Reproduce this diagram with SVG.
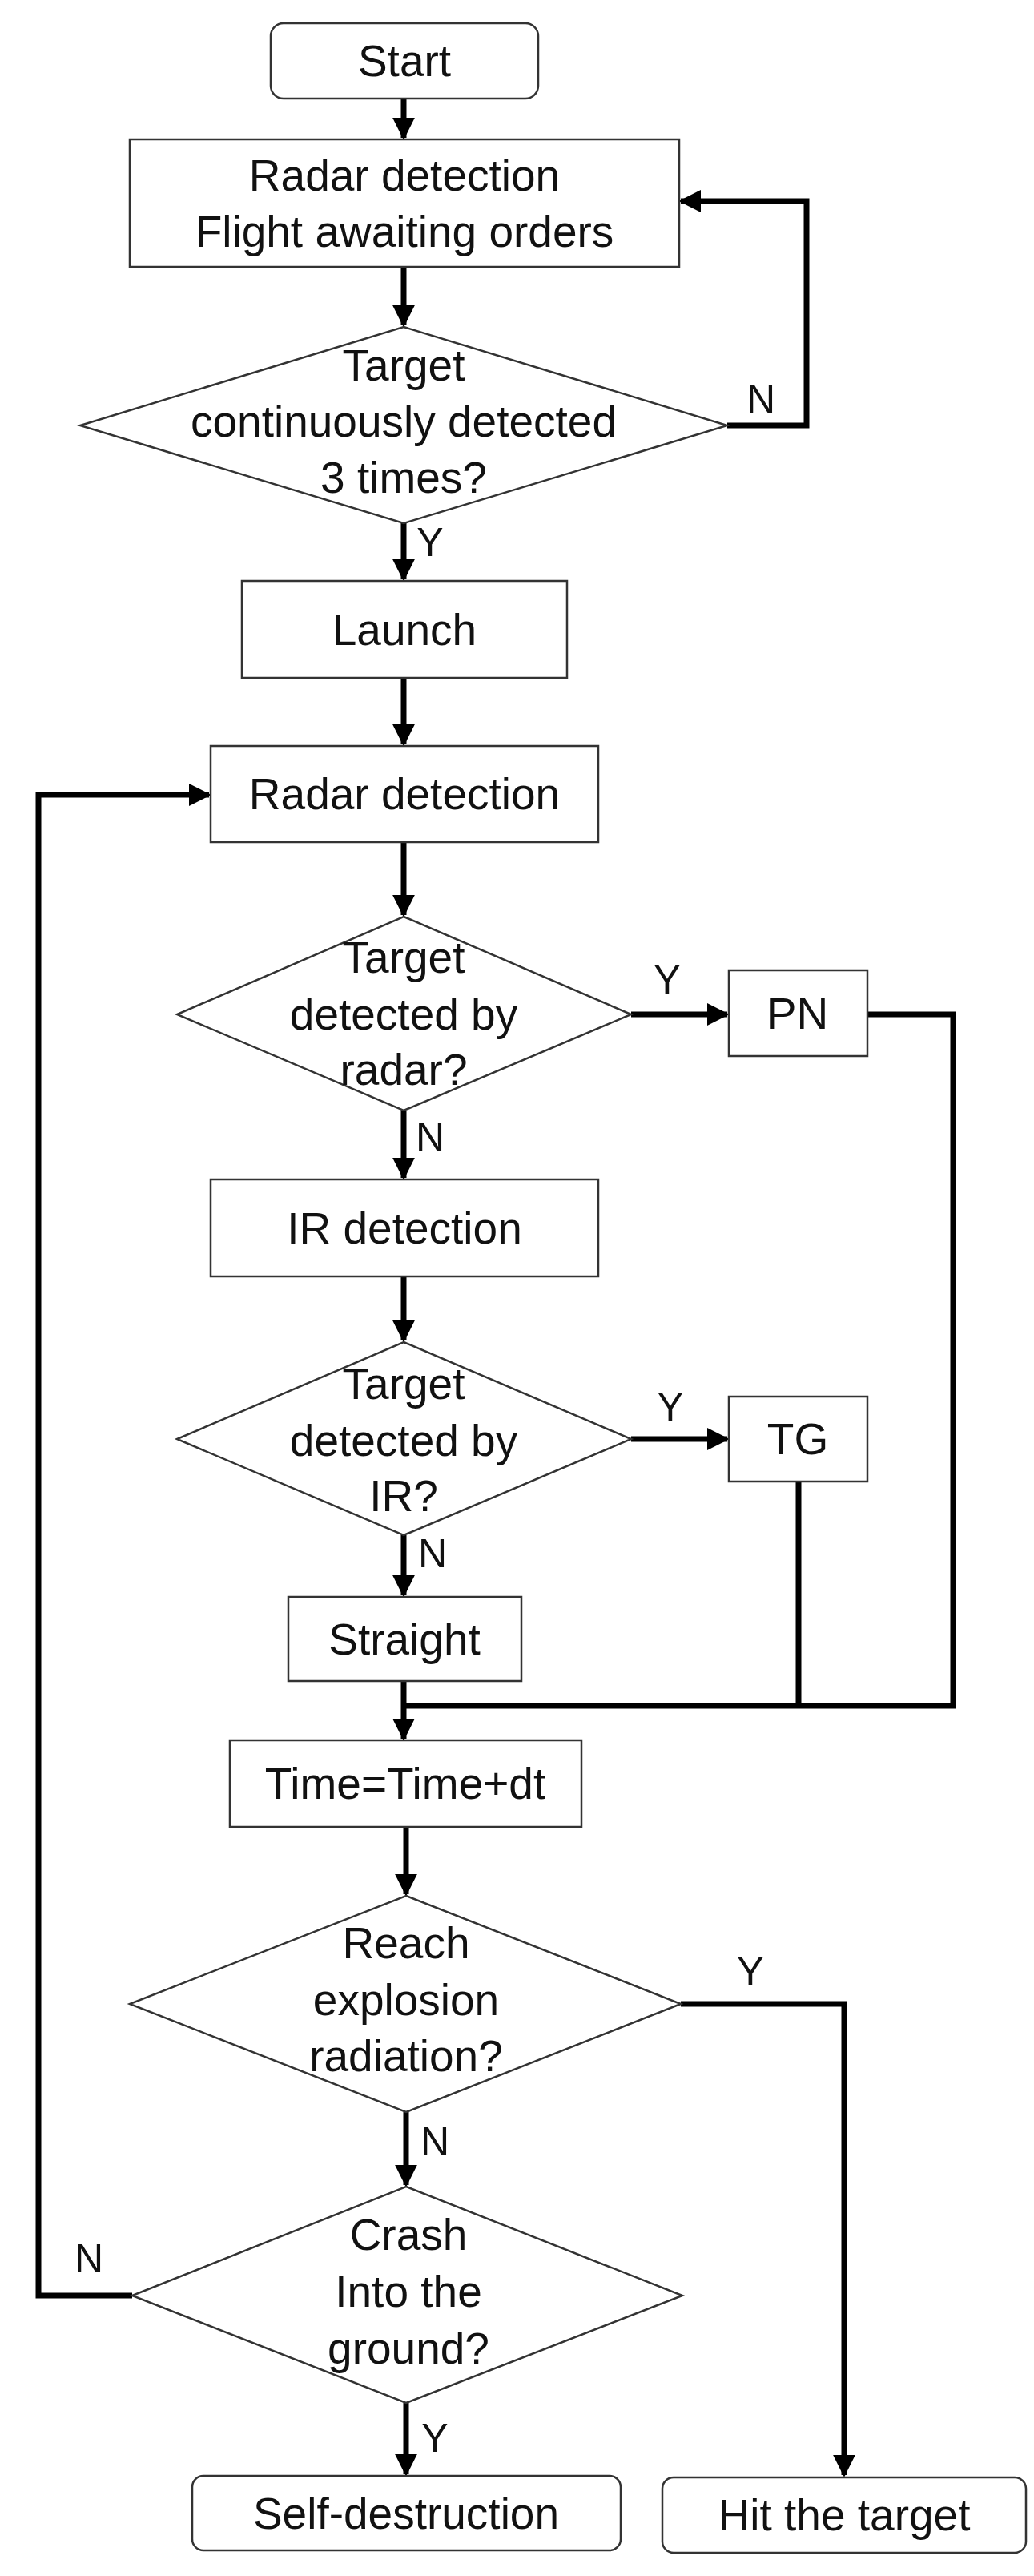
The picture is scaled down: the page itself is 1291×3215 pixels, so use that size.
<svg xmlns="http://www.w3.org/2000/svg" width="1291" height="3215" viewBox="0 0 1291 3215">
<style>
.n{fill:#fff;stroke:#333;stroke-width:2.5}
text{font-family:"Liberation Sans",Arial,sans-serif;font-size:55px;fill:#111;text-anchor:middle;dominant-baseline:central}
.c{fill:none;stroke:#000;stroke-width:7}
.l{font-size:50px}
</style>
<defs><marker id="a" viewBox="0 0 10 10" refX="9" refY="5" markerWidth="4" markerHeight="4" orient="auto" markerUnits="strokeWidth"><path d="M0,0L10,5L0,10z" fill="#000"/></marker></defs>
<rect width="1291" height="3215" fill="#fff"/>
<g id="connectors">
<path class="c" d="M504,123V172" marker-end="url(#a)"/>
<path class="c" d="M504,333V406" marker-end="url(#a)"/>
<path class="c" d="M908,531H1007V251H850" marker-end="url(#a)"/>
<path class="c" d="M504,653V723" marker-end="url(#a)"/>
<path class="c" d="M504,846V929" marker-end="url(#a)"/>
<path class="c" d="M504,1051V1142" marker-end="url(#a)"/>
<path class="c" d="M788,1266H908" marker-end="url(#a)"/>
<path class="c" d="M504,1386V1470" marker-end="url(#a)"/>
<path class="c" d="M504,1593V1673" marker-end="url(#a)"/>
<path class="c" d="M788,1796H908" marker-end="url(#a)"/>
<path class="c" d="M504,1916V1991" marker-end="url(#a)"/>
<path class="c" d="M1083,1266H1190V2129H504"/>
<path class="c" d="M997,1849V2129"/>
<path class="c" d="M504,2098V2170" marker-end="url(#a)"/>
<path class="c" d="M507,2280V2364" marker-end="url(#a)"/>
<path class="c" d="M850,2501H1054V3089" marker-end="url(#a)"/>
<path class="c" d="M507,2636V2727" marker-end="url(#a)"/>
<path class="c" d="M165,2865H48V992H261" marker-end="url(#a)"/>
<path class="c" d="M507,2999V3088" marker-end="url(#a)"/>
<text class="l" x="950" y="498">N</text>
<text class="l" x="537" y="677">Y</text>
<text class="l" x="833" y="1223">Y</text>
<text class="l" x="537" y="1419">N</text>
<text class="l" x="837" y="1756">Y</text>
<text class="l" x="540" y="1939">N</text>
<text class="l" x="937" y="2461">Y</text>
<text class="l" x="543" y="2673">N</text>
<text class="l" x="111" y="2819">N</text>
<text class="l" x="543" y="3043">Y</text>
</g>
<g id="start"><rect class="n" x="338" y="29" width="334" height="94" rx="16"/><text x="505" y="76">Start</text></g>
<g id="radar1"><rect class="n" x="162" y="174" width="686" height="159"/><text x="505" y="219">Radar detection</text><text x="505" y="289">Flight awaiting orders</text></g>
<g id="d1"><polygon class="n" points="504,408 908,531 504,653 100,531"/><text x="504" y="456">Target</text><text x="504" y="526">continuously detected</text><text x="504" y="596">3 times?</text></g>
<g id="launch"><rect class="n" x="302" y="725" width="406" height="121"/><text x="505" y="786">Launch</text></g>
<g id="radar2"><rect class="n" x="263" y="931" width="484" height="120"/><text x="505" y="991">Radar detection</text></g>
<g id="d2"><polygon class="n" points="504,1144 788,1266 504,1386 221,1266"/><text x="504" y="1195">Target</text><text x="504" y="1266">detected by</text><text x="504" y="1335">radar?</text></g>
<g id="pn"><rect class="n" x="910" y="1211" width="173" height="107"/><text x="996" y="1265">PN</text></g>
<g id="ir"><rect class="n" x="263" y="1472" width="484" height="121"/><text x="505" y="1533">IR detection</text></g>
<g id="d3"><polygon class="n" points="504,1675 788,1796 504,1916 221,1796"/><text x="504" y="1727">Target</text><text x="504" y="1798">detected by</text><text x="504" y="1867">IR?</text></g>
<g id="tg"><rect class="n" x="910" y="1743" width="173" height="106"/><text x="996" y="1796">TG</text></g>
<g id="straight"><rect class="n" x="360" y="1993" width="291" height="105"/><text x="505" y="2046">Straight</text></g>
<g id="time"><rect class="n" x="287" y="2172" width="439" height="108"/><text x="506" y="2226">Time=Time+dt</text></g>
<g id="d4"><polygon class="n" points="507,2366 850,2501 507,2636 162,2501"/><text x="507" y="2425">Reach</text><text x="507" y="2496">explosion</text><text x="507" y="2566">radiation?</text></g>
<g id="d5"><polygon class="n" points="507,2729 852,2865 507,2999 165,2865"/><text x="510" y="2789">Crash</text><text x="510" y="2860">Into the</text><text x="510" y="2931">ground?</text></g>
<g id="self"><rect class="n" x="240" y="3090" width="535" height="93" rx="14"/><text x="507" y="3137">Self-destruction</text></g>
<g id="hit"><rect class="n" x="827" y="3092" width="454" height="94" rx="14"/><text x="1054" y="3139">Hit the target</text></g>
</svg>
